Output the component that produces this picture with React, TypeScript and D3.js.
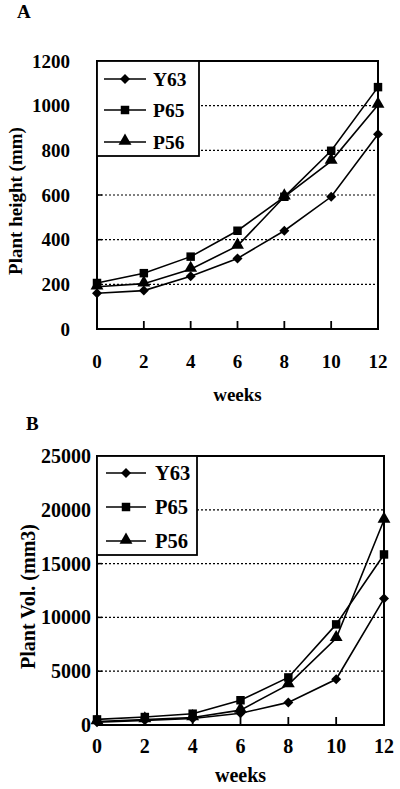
import React from "react";
import * as d3 from "d3";

const weeks = [0, 2, 4, 6, 8, 10, 12];
const seriesNames = ["Y63", "P65", "P56"];

const heightY63 = [160, 172, 236, 316, 440, 592, 872];
const heightP65 = [206, 250, 324, 440, 592, 798, 1083];
const heightP56 = [189, 203, 268, 372, 592, 752, 1003];

const volY63 = [250, 430, 600, 1090, 2100, 4250, 11750];
const volP65 = [520, 740, 1050, 2300, 4420, 9350, 15850];
const volP56 = [330, 500, 700, 1380, 3750, 8050, 19050];

const heightTicks = [0, 200, 400, 600, 800, 1000, 1200];
const volTicks = [0, 5000, 10000, 15000, 20000, 25000];

const FONT = "'Liberation Serif', 'Times New Roman', serif";

function marker(i: number, cx: number, cy: number, key: string) {
  if (i === 0) {
    const path = d3.symbol().type(d3.symbolSquare).size(50)() || "";
    return <path key={key} d={path} transform={`translate(${cx},${cy}) rotate(45)`} fill="#000" />;
  }
  if (i === 1) {
    const path = d3.symbol().type(d3.symbolSquare).size(72)() || "";
    return <path key={key} d={path} transform={`translate(${cx},${cy})`} fill="#000" />;
  }
  const path = d3.symbol().type(d3.symbolTriangle).size(72)() || "";
  return <path key={key} d={path} transform={`translate(${cx},${cy - 1})`} fill="#000" />;
}

type PanelProps = {
  letter: string;
  letterX: number;
  letterY: number;
  series: number[][];
  yTicks: number[];
  yMax: number;
  xRange: [number, number];
  yRange: [number, number];
  yLabel: string;
  yLabelX: number;
  tickLabelRight: number;
  xLabelY: number;
  weeksY: number;
  legend: { x0: number; x1: number; y0: number; y1: number; rows: number[]; lx0: number; lx1: number; tx: number };
  fs: number;
};

function Panel(p: PanelProps) {
  const x = d3.scaleLinear().domain([0, 12]).range(p.xRange);
  const y = d3.scaleLinear().domain([0, p.yMax]).range(p.yRange);
  const line = d3
    .line<number>()
    .x((_, i) => x(weeks[i]))
    .y((d) => y(d));
  const [x0, x1] = p.xRange;
  const [yb, yt] = p.yRange;
  const L = p.legend;
  return (
    <g>
      <text x={p.letterX} y={p.letterY} fontFamily={FONT} fontWeight="bold" fontSize={19}>
        {p.letter}
      </text>
      {p.yTicks.slice(1, -1).map((t) => (
        <line key={"g" + t} x1={x0} x2={x1} y1={y(t)} y2={y(t)} stroke="#000" strokeWidth={1.2} strokeDasharray="2,2" />
      ))}
      {p.yTicks.slice(1, -1).map((t) => (
        <line key={"yt" + t} x1={x0} x2={x0 + 5} y1={y(t)} y2={y(t)} stroke="#000" strokeWidth={1.5} />
      ))}
      {weeks.slice(1, -1).map((w) => (
        <line key={"xt" + w} x1={x(w)} x2={x(w)} y1={yb} y2={yb - 8} stroke="#000" strokeWidth={1.8} />
      ))}
      <rect x={x0} y={yt} width={x1 - x0} height={yb - yt} fill="none" stroke="#000" strokeWidth={2} />
      {p.series.map((s, i) => (
        <path key={"l" + i} d={line(s) || ""} fill="none" stroke="#000" strokeWidth={1.6} />
      ))}
      {p.series.map((s, i) => s.map((v, j) => marker(i, x(weeks[j]), y(v), "m" + i + "-" + j)))}
      <rect x={L.x0} y={L.y0} width={L.x1 - L.x0} height={L.y1 - L.y0} fill="#fff" stroke="#000" strokeWidth={1.8} />
      {seriesNames.map((n, i) => (
        <g key={"lg" + n}>
          <line x1={L.lx0} x2={L.lx1} y1={L.rows[i]} y2={L.rows[i]} stroke="#000" strokeWidth={1.6} />
          {marker(i, (L.lx0 + L.lx1) / 2, L.rows[i], "lm" + i)}
          <text x={L.tx} y={L.rows[i]} dy="0.35em" fontFamily={FONT} fontWeight="bold" fontSize={p.fs + 0.5}>
            {n}
          </text>
        </g>
      ))}
      {p.yTicks.map((t) => (
        <text
          key={"yl" + t}
          x={p.tickLabelRight}
          y={y(t)}
          dy="0.35em"
          textAnchor="end"
          fontFamily={FONT}
          fontWeight="bold"
          fontSize={p.fs}
        >
          {t}
        </text>
      ))}
      {weeks.map((w) => (
        <text key={"xl" + w} x={x(w)} y={p.xLabelY} textAnchor="middle" fontFamily={FONT} fontWeight="bold" fontSize={p.fs}>
          {w}
        </text>
      ))}
      <text x={(x0 + x1) / 2} y={p.weeksY} textAnchor="middle" fontFamily={FONT} fontWeight="bold" fontSize={p.fs}>
        weeks
      </text>
      <text
        transform={`translate(${p.yLabelX},${(yb + yt) / 2 + 6}) rotate(-90)`}
        textAnchor="middle"
        dy="0.35em"
        fontFamily={FONT}
        fontWeight="bold"
        fontSize={p.fs}
      >
        {p.yLabel}
      </text>
    </g>
  );
}

export default function App() {
  return (
    <svg width={400} height={789} style={{ position: "absolute", left: 0, top: 0, background: "#fff" }}>
      <rect x={0} y={0} width={400} height={789} fill="#fff" />
      <Panel
        letter="A"
        letterX={17}
        letterY={18}
        series={[heightY63, heightP65, heightP56]}
        yTicks={heightTicks}
        yMax={1200}
        xRange={[97, 378]}
        yRange={[329, 61]}
        yLabel="Plant height (mm)"
        yLabelX={15}
        tickLabelRight={70}
        xLabelY={368}
        weeksY={401}
        legend={{ x0: 97, x1: 199, y0: 61, y1: 156, rows: [79, 110, 142], lx0: 104, lx1: 146, tx: 153 }}
        fs={19}
      />
      <Panel
        letter="B"
        letterX={26}
        letterY={430}
        series={[volY63, volP65, volP56]}
        yTicks={volTicks}
        yMax={25000}
        xRange={[97, 384]}
        yRange={[725, 456]}
        yLabel="Plant Vol. (mm3)"
        yLabelX={28}
        tickLabelRight={91}
        xLabelY={753}
        weeksY={782}
        legend={{ x0: 97, x1: 197, y0: 456, y1: 555, rows: [473, 507, 541], lx0: 106, lx1: 146, tx: 155 }}
        fs={20}
      />
    </svg>
  );
}
